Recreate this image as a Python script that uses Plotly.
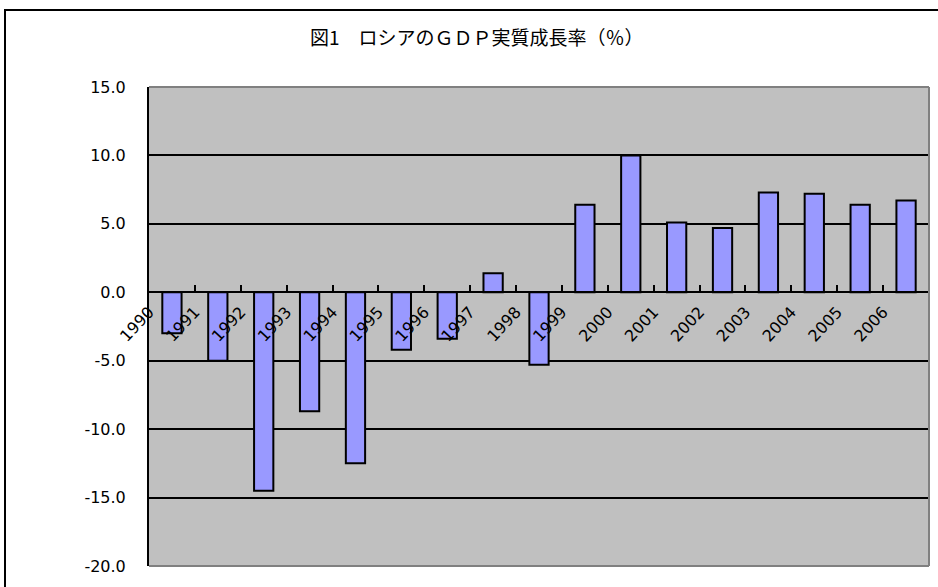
import plotly.graph_objects as go

years = list(range(1990, 2007))
growth = [-3.0, -5.0, -14.5, -8.7, -12.5, -4.2, -3.4, 1.4, -5.3, 6.4, 10.0, 5.1, 4.7, 7.3, 7.2, 6.4, 6.7]
x_labels = [str(y) for y in years]
y_ticks = [-20, -15, -10, -5, 0, 5, 10, 15]
y_labels = [f"{v:.1f}" for v in y_ticks]
title_text = "図1　ロシアのＧＤＰ実質成長率（％）"

W, H = 938, 587
L, R, T, B = 149, 9, 87, 21
pw, ph = W - L - R, H - T - B

def px_x(p):
    return (p - L) / pw

def px_y(p):
    return (H - B - p) / ph

fig = go.Figure()
fig.add_trace(go.Bar(
    x=years, y=growth, width=0.42,
    marker=dict(color="#9999FF", line=dict(color="black", width=2)),
    hoverinfo="x+y",
))

ymin, ymax = y_ticks[0], y_ticks[-1]
fig.update_layout(
    width=W, height=H,
    margin=dict(l=L, r=R, t=T, b=B),
    paper_bgcolor="white", plot_bgcolor="#C0C0C0",
    showlegend=False,
    font=dict(family="DejaVu Sans", size=16, color="black"),
    xaxis=dict(
        range=[years[0] - 0.5, years[-1] + 0.5],
        tickmode="array",
        tickvals=[y - 0.5 for y in years],
        ticktext=x_labels,
        tickangle=-47,
        ticks="inside", ticklen=6, tickwidth=2, tickcolor="black",
        showline=True, linecolor="black", linewidth=2,
        showgrid=False, zeroline=False,
        anchor="free", position=(0 - ymin) / (ymax - ymin),
        ticklabelstandoff=3,
        tickfont=dict(family="DejaVu Sans", size=16),
    ),
    yaxis=dict(
        range=[ymin, ymax],
        tickmode="array", tickvals=y_ticks, ticktext=y_labels,
        ticks="inside", ticklen=7, tickwidth=2, tickcolor="black",
        showline=True, linecolor="black", linewidth=2,
        showgrid=True, gridcolor="black", gridwidth=2,
        zeroline=False,
        ticklabelstandoff=18,
        tickfont=dict(family="DejaVu Sans", size=16),
    ),
)

# grey plot-area border (top, right, bottom)
for (x0, y0, x1, y1) in [(0, 1, 1, 1), (1, 0, 1, 1), (0, 0, 1, 0)]:
    fig.add_shape(type="line", xref="paper", yref="paper",
                  x0=x0, y0=y0, x1=x1, y1=y1,
                  line=dict(color="#808080", width=2), layer="above")

# outer chart border
fig.add_shape(type="rect", xref="paper", yref="paper",
              x0=px_x(5), y0=px_y(10), x1=px_x(960), y1=px_y(620),
              line=dict(color="black", width=2), fillcolor="rgba(0,0,0,0)",
              layer="below")

fig.add_annotation(
    text=title_text, xref="paper", yref="paper",
    x=px_x(477), y=px_y(37), xanchor="center", yanchor="middle",
    showarrow=False,
    font=dict(family="Noto Sans CJK JP", size=19, color="black"),
)

fig.write_html("out.html")
